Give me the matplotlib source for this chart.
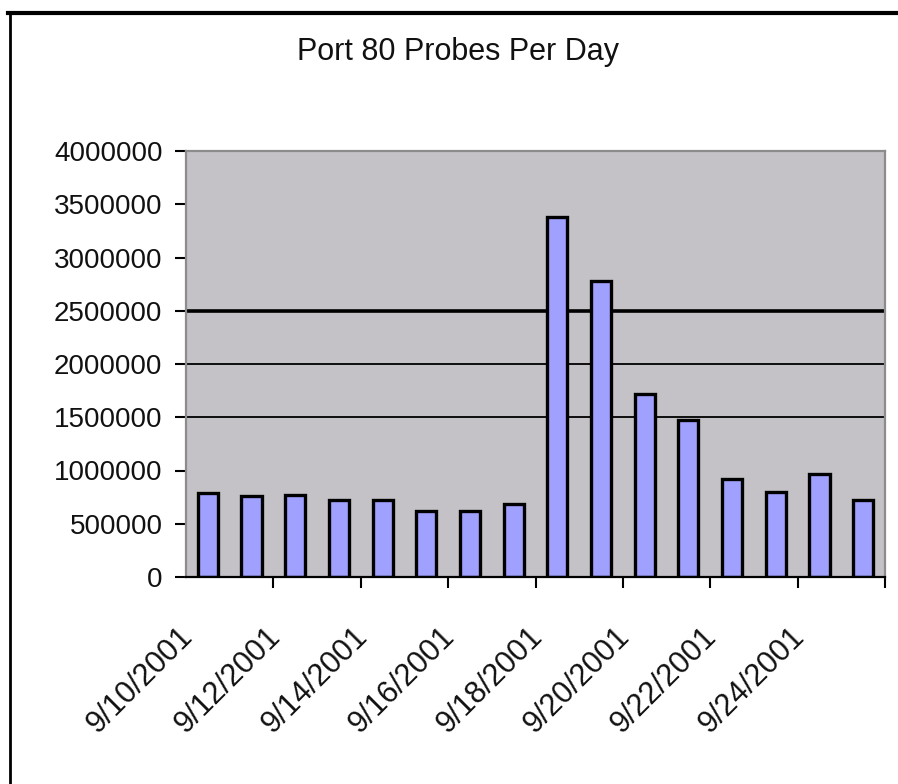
import numpy as np
import matplotlib
matplotlib.use('Agg')
import matplotlib.pyplot as plt
from matplotlib.lines import Line2D

plt.rcParams['font.family'] = ['Liberation Sans', 'DejaVu Sans']

# probes per day
days = ['9/10/2001', '9/11/2001', '9/12/2001', '9/13/2001', '9/14/2001',
        '9/15/2001', '9/16/2001', '9/17/2001', '9/18/2001', '9/19/2001',
        '9/20/2001', '9/21/2001', '9/22/2001', '9/23/2001', '9/24/2001',
        '9/25/2001']
probes = [790000, 765000, 770000, 720000, 720000, 620000, 620000, 690000,
          3380000, 2780000, 1720000, 1470000, 920000, 800000, 970000, 720000]
y_ticks = [0, 500000, 1000000, 1500000, 2000000, 2500000, 3000000, 3500000, 4000000]
grid_levels = [1500000, 2000000, 2500000]
grid_widths = [1.3, 1.3, 2.6]

W, H = 898, 784
fig = plt.figure(figsize=(W / 100, H / 100), dpi=100)
fig.patch.set_facecolor('white')

# plot area in pixels: x 186..885, y 151..577
ax = fig.add_axes([186 / W, 1 - 577 / H, (885 - 186) / W, (577 - 151) / H])
ax.set_facecolor('#c4c2c6')

x = np.arange(len(days))
ax.bar(x, probes, width=0.46, color='#a0a0ff', edgecolor='black',
       linewidth=2.4, zorder=3)

for lvl, lw in zip(grid_levels, grid_widths):
    ax.axhline(lvl, color='black', linewidth=lw, zorder=1)

ax.set_xlim(-0.5, len(days) - 0.5)
ax.set_ylim(0, 4000000)

ax.set_yticks(y_ticks, [str(v) for v in y_ticks])
ax.tick_params(axis='y', length=8, width=1.5, color='black', pad=9,
               labelsize=20, labelcolor='#111111')

# labels every other day, tick marks between category pairs
ax.set_xticks(x[::2] - 0.45, days[::2])
ax.set_xticks(np.arange(1.5, len(days), 2), minor=True)
ax.tick_params(axis='x', which='major', length=0, pad=40,
               labelsize=22, labelcolor='#111111')
ax.tick_params(axis='x', which='minor', length=8, width=1.5, color='black')
for lab in ax.get_xticklabels():
    lab.set_rotation(45)
    lab.set_ha('right')
    lab.set_va('center')
    lab.set_rotation_mode('anchor')

for side in ['top', 'right', 'left']:
    ax.spines[side].set_color('#8c8c8c')
    ax.spines[side].set_linewidth(1.6)
ax.spines['bottom'].set_color('black')
ax.spines['bottom'].set_linewidth(1.6)
ax.spines['bottom'].set_zorder(4)

fig.text(458 / W, 1 - 60 / H, 'Port 80 Probes Per Day', ha='center',
         va='baseline', fontsize=22, color='#111111')

# chart frame (top and left edges show in the scan)
fig.add_artist(Line2D([8 / W, 1], [1 - 12.5 / H, 1 - 12.5 / H],
                      color='black', linewidth=3))
fig.add_artist(Line2D([10 / W, 10 / W], [0, 1 - 12.5 / H],
                      color='black', linewidth=2))

fig.savefig('out.png', dpi=100)
